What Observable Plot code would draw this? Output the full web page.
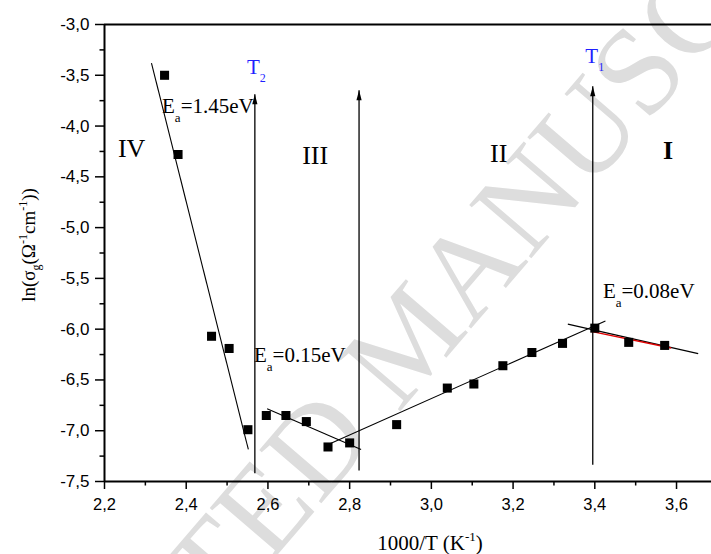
<!DOCTYPE html>
<html>
<head>
<meta charset="utf-8">
<script src="https://cdn.jsdelivr.net/npm/d3@7"></script>
<script src="https://cdn.jsdelivr.net/npm/@observablehq/plot@0.6"></script>
<style>
  html, body { margin: 0; padding: 0; background: #fff; }
  #chart { position: relative; width: 711px; height: 554px; overflow: hidden; }
</style>
</head>
<body>
<div id="chart"></div>
<script>
// Measured conductivity: 1000/T (K^-1) against ln(sigma_g)
const invT    = [2.347, 2.380, 2.462, 2.505, 2.551, 2.596, 2.644, 2.694, 2.747, 2.800,
                 2.915, 3.039, 3.104, 3.175, 3.246, 3.321, 3.400, 3.483, 3.571];
const lnSigma = [-3.50, -4.28, -6.07, -6.19, -6.99, -6.85, -6.85, -6.91, -7.16, -7.12,
                 -6.94, -6.58, -6.54, -6.36, -6.23, -6.14, -5.99, -6.13, -6.16];

// Arrhenius fit segments for regions IV, III, II, I
const fitX1 = [2.315, 2.598, 2.749, 3.334];
const fitY1 = [-3.381, -6.783, -7.132, -5.950];
const fitX2 = [2.552, 2.828, 3.426, 3.653];
const fitY2 = [-7.184, -7.184, -5.920, -6.241];
// second fit over region I (red)
const redX = [3.391, 3.587];
const redY = [-6.022, -6.186];

// Transition arrows (T2, boundary III/II, T1)
const arrowX      = [2.568, 2.823, 3.395];
const arrowBottom = [-7.418, -7.391, -7.335];
const arrowTop    = [-3.687, -3.647, -3.608];

// Transition temperature labels
const tNames = ["2", "1"];
const tX = [2.550, 3.378];
const tY = [-3.49, -3.381];

// Region labels
const regionNames = ["IV", "III", "II", "I"];
const regionBold  = [false, false, false, true];
const regionX = [2.234, 2.685, 3.145, 3.568];
const regionY = [-4.307, -4.376, -4.357, -4.327];

// Activation energies
const eaValues = ["1.45", "0.15", "0.08"];
const eaX = [2.342, 2.567, 3.421];
const eaY = [-3.874, -6.327, -5.697];

// Axes
const xDomain = [2.2, 3.6856];
const yDomain = [-7.5, -3.0];
const xMajor = [2.2, 2.4, 2.6, 2.8, 3.0, 3.2, 3.4, 3.6];
const xMinor = [2.3, 2.5, 2.7, 2.9, 3.1, 3.3, 3.5];
const yMajor = [-7.5, -7.0, -6.5, -6.0, -5.5, -5.0, -4.5, -4.0, -3.5, -3.0];
const yMinor = [-7.25, -6.75, -6.25, -5.75, -5.25, -4.75, -4.25, -3.75, -3.25];
const commaFmt = d => d.toFixed(1).replace(".", ",");

const points = invT.map((x, i) => ({x, y: lnSigma[i]}));
const fits = fitX1.map((x1, i) => ({x1, y1: fitY1[i], x2: fitX2[i], y2: fitY2[i]}));
const redFit = [{x1: redX[0], y1: redY[0], x2: redX[1], y2: redY[1]}];
const arrows = arrowX.map((x, i) => ({x, bottom: arrowBottom[i], top: arrowTop[i]}));

// narrow filled arrowhead with its tip at the anchor point
const arrowHead = {
  draw(context) {
    context.moveTo(0, 0);
    context.lineTo(2.6, 10);
    context.lineTo(-2.6, 10);
    context.closePath();
  }
};

const plot = Plot.plot({
  width: 711,
  height: 554,
  marginLeft: 104,
  marginRight: 0,
  marginTop: 24,
  marginBottom: 73,
  x: {domain: xDomain},
  y: {domain: yDomain},
  style: {fontFamily: "'Liberation Sans', Arial, sans-serif", fontSize: "17px", color: "#000", background: "#fff"},
  marks: [
    Plot.axisX(xMajor, {tickSize: 8, tickPadding: 9, tickFormat: commaFmt, fontSize: 16.5, strokeWidth: 1.5, label: null}),
    Plot.axisX(xMinor, {tickSize: 4.5, tickFormat: () => "", strokeWidth: 1.5, label: null}),
    Plot.axisY(yMajor, {tickSize: 9, tickPadding: 6, tickFormat: commaFmt, fontSize: 17, strokeWidth: 1.5, label: null}),
    Plot.axisY(yMinor, {tickSize: 4.5, tickFormat: () => "", strokeWidth: 1.5, label: null}),
    Plot.ruleX([xDomain[0]], {stroke: "#000", strokeWidth: 2}),
    Plot.ruleY(yDomain, {stroke: "#000", strokeWidth: 2}),
    Plot.link(arrows, {x1: "x", x2: "x", y1: "bottom", y2: "top", stroke: "#000", strokeWidth: 1.3}),
    Plot.dot(arrows, {x: "x", y: "top", symbol: arrowHead, fill: "#000", stroke: "none", r: 1}),
    Plot.link(fits, {x1: "x1", y1: "y1", x2: "x2", y2: "y2", stroke: "#000", strokeWidth: 1.1}),
    Plot.link(redFit, {x1: "x1", y1: "y1", x2: "x2", y2: "y2", stroke: "#e00000", strokeWidth: 1.4}),
    Plot.dot(points, {x: "x", y: "y", symbol: "square", r: 5.1, fill: "#000", stroke: "none"})
  ]
});

document.getElementById("chart").appendChild(plot);

const svg = d3.select(plot);
const sx = v => plot.scale("x").apply(v);
const sy = v => plot.scale("y").apply(v);

// text with sub/superscript parts: [string, "sub" | "sup" | ""]
function richText(parent, parts, o) {
  const t = parent.append("text")
    .attr("x", o.x ?? 0).attr("y", o.y ?? 0)
    .style("font-family", o.family || "'Liberation Serif', 'Times New Roman', serif")
    .style("font-size", o.size + "px")
    .style("font-weight", o.weight || "normal")
    .attr("fill", o.fill || "#000")
    .attr("text-anchor", o.anchor || "start");
  if (o.transform) t.attr("transform", o.transform);
  let shift = 0;
  for (const [s, kind] of parts) {
    const target = kind === "sub" ? o.subShift : kind === "sup" ? -o.supShift : 0;
    t.append("tspan")
      .attr("dy", target - shift)
      .style("font-size", (kind ? o.smallSize : o.size) + "px")
      .text(s);
    shift = target;
  }
  return t;
}

// faint manuscript watermark behind the chart
const wm = svg.insert("g", ":first-child")
  .attr("transform", "translate(398,414) rotate(-49.4)")
  .style("font-family", "'Liberation Serif', 'Times New Roman', serif")
  .style("font-size", "125px")
  .attr("fill", "#dddddd");
wm.append("text").attr("x", -31).attr("text-anchor", "end").text("ACCEPTED");
wm.append("text").attr("x", 0).attr("text-anchor", "start").text("MANUSCRIPT");

const ann = svg.append("g");

// region numerals
regionNames.forEach((name, i) => {
  richText(ann, [[name, ""]], {x: sx(regionX[i]), y: sy(regionY[i]), size: 26, weight: regionBold[i] ? "bold" : "normal"});
});

// activation energies
eaValues.forEach((v, i) => {
  richText(ann, [["E", ""], ["a", "sub"], ["=" + v + "eV", ""]],
    {x: sx(eaX[i]), y: sy(eaY[i]), size: 21, smallSize: 13, subShift: 9, supShift: 0});
});

// transition temperatures
tNames.forEach((n, i) => {
  richText(ann, [["T", ""], [n, "sub"]],
    {x: sx(tX[i]), y: sy(tY[i]), size: 21, smallSize: 12, subShift: 8, supShift: 0, fill: "#1f1fff"});
});

// axis titles
richText(ann, [["1000/T (K", ""], ["-1", "sup"], [")", ""]],
  {x: 430, y: 550, anchor: "middle", size: 21, smallSize: 13, subShift: 0, supShift: 9});

richText(ann, [["ln(σ", ""], ["g", "sub"], ["(Ω", ""], ["-1", "sup"], ["cm", ""], ["-1", "sup"], ["))", ""]],
  {transform: "translate(35,245) rotate(-90)", anchor: "middle", size: 19, smallSize: 12, subShift: 5, supShift: 8});
</script>
</body>
</html>
